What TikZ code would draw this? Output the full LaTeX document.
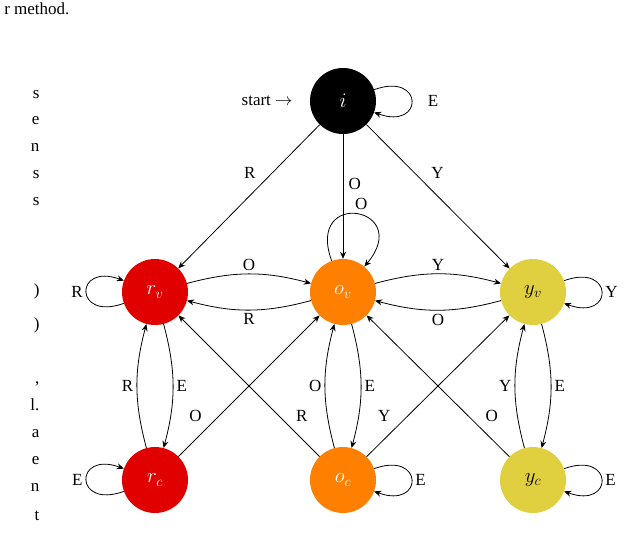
\documentclass[tikz,border=0pt]{standalone}
\usepackage{fontspec}
\setmainfont{Liberation Serif}
\usetikzlibrary{arrows.meta}
\definecolor{cr}{RGB}{224,0,0}
\definecolor{co}{RGB}{255,128,0}
\definecolor{cy}{RGB}{224,208,64}
\begin{document}
\begin{tikzpicture}[x=1pt,y=-1pt,
  st/.style={circle,minimum size=66pt,inner sep=0pt,font=\fontsize{22}{24}\selectfont},
  lb/.style={font=\fontsize{17}{19}\selectfont},
  e/.style={-{Stealth[length=7pt,width=6pt]},line width=0.8pt},
  lp/.style={e,looseness=6},
  frag/.style={font=\fontsize{17}{19}\selectfont,anchor=base east}]
\useasboundingbox (0,0) rectangle (640,547);
\node[frag] (f0) at (73,14) {r method.};
\foreach \t/\y [count=\k] in {s/98,e/124,n/151,s/178,s/205,)/295,)/329,{,}/383,l./410,a/437,e/464,n/491,t/520}
  \node[frag] (fr\k) at (43,\y) {\t};
\node[st,fill=black,text=white] (i) at (343,101) {$i$};
\node[st,fill=cr,text=white] (rv) at (155,292) {$r_v$};
\node[st,fill=co,text=white] (ov) at (343,292) {$o_v$};
\node[st,fill=cy,text=black] (yv) at (533,292) {$y_v$};
\node[st,fill=cr,text=white] (rc) at (155,480) {$r_c$};
\node[st,fill=co,text=white] (oc) at (343,480) {$o_c$};
\node[st,fill=cy,text=black] (yc) at (533,480) {$y_c$};
\node[lb,anchor=east] (start) at (296,101) {start $\rightarrow$};
\node[lb] (lE0) at (433,101) {E};
\draw[lp] (i) to[out=20,in=-20] (i);
\draw[e] (i) -- node[lb,above left,pos=0.4,xshift=-4pt]{R} (rv);
\draw[e] (i) -- node[lb,right,pos=0.4,xshift=2pt]{O} (ov);
\draw[e] (i) -- node[lb,above right,pos=0.4,xshift=4pt]{Y} (yv);
\draw[e] (rv) to[bend left=15] node[lb,above]{O} (ov);
\draw[e] (ov) to[bend left=15] node[lb,below]{R} (rv);
\draw[e] (ov) to[bend left=15] node[lb,above]{Y} (yv);
\draw[e] (yv) to[bend left=15] node[lb,below]{O} (ov);
\draw[lp] (ov) to[out=110,in=50] node[lb,above right,pos=0.45]{O} (ov);
\draw[lp] (rv) to[out=200,in=160] node[lb,left]{R} (rv);
\draw[lp] (yv) to[out=20,in=-20] node[lb,right]{Y} (yv);
\draw[lp] (rc) to[out=200,in=160] node[lb,left]{E} (rc);
\draw[lp] (oc) to[out=20,in=-20] node[lb,right]{E} (oc);
\draw[lp] (yc) to[out=20,in=-20] node[lb,right]{E} (yc);
\draw[e] (rv) to[bend left=15] node[lb,right]{E} (rc);
\draw[e] (rc) to[bend left=15] node[lb,left]{R} (rv);
\draw[e] (ov) to[bend left=15] node[lb,right]{E} (oc);
\draw[e] (oc) to[bend left=15] node[lb,left]{O} (ov);
\draw[e] (yv) to[bend left=15] node[lb,right]{E} (yc);
\draw[e] (yc) to[bend left=15] node[lb,left]{Y} (yv);
\draw[e] (rc) -- node[lb,pos=0.22,above left,xshift=-4pt]{O} (ov);
\draw[e] (oc) -- node[lb,pos=0.22,above right,xshift=4pt]{R} (rv);
\draw[e] (oc) -- node[lb,pos=0.22,above left,xshift=-4pt]{Y} (yv);
\draw[e] (yc) -- node[lb,pos=0.22,above right,xshift=4pt]{O} (ov);
\end{tikzpicture}
\end{document}
